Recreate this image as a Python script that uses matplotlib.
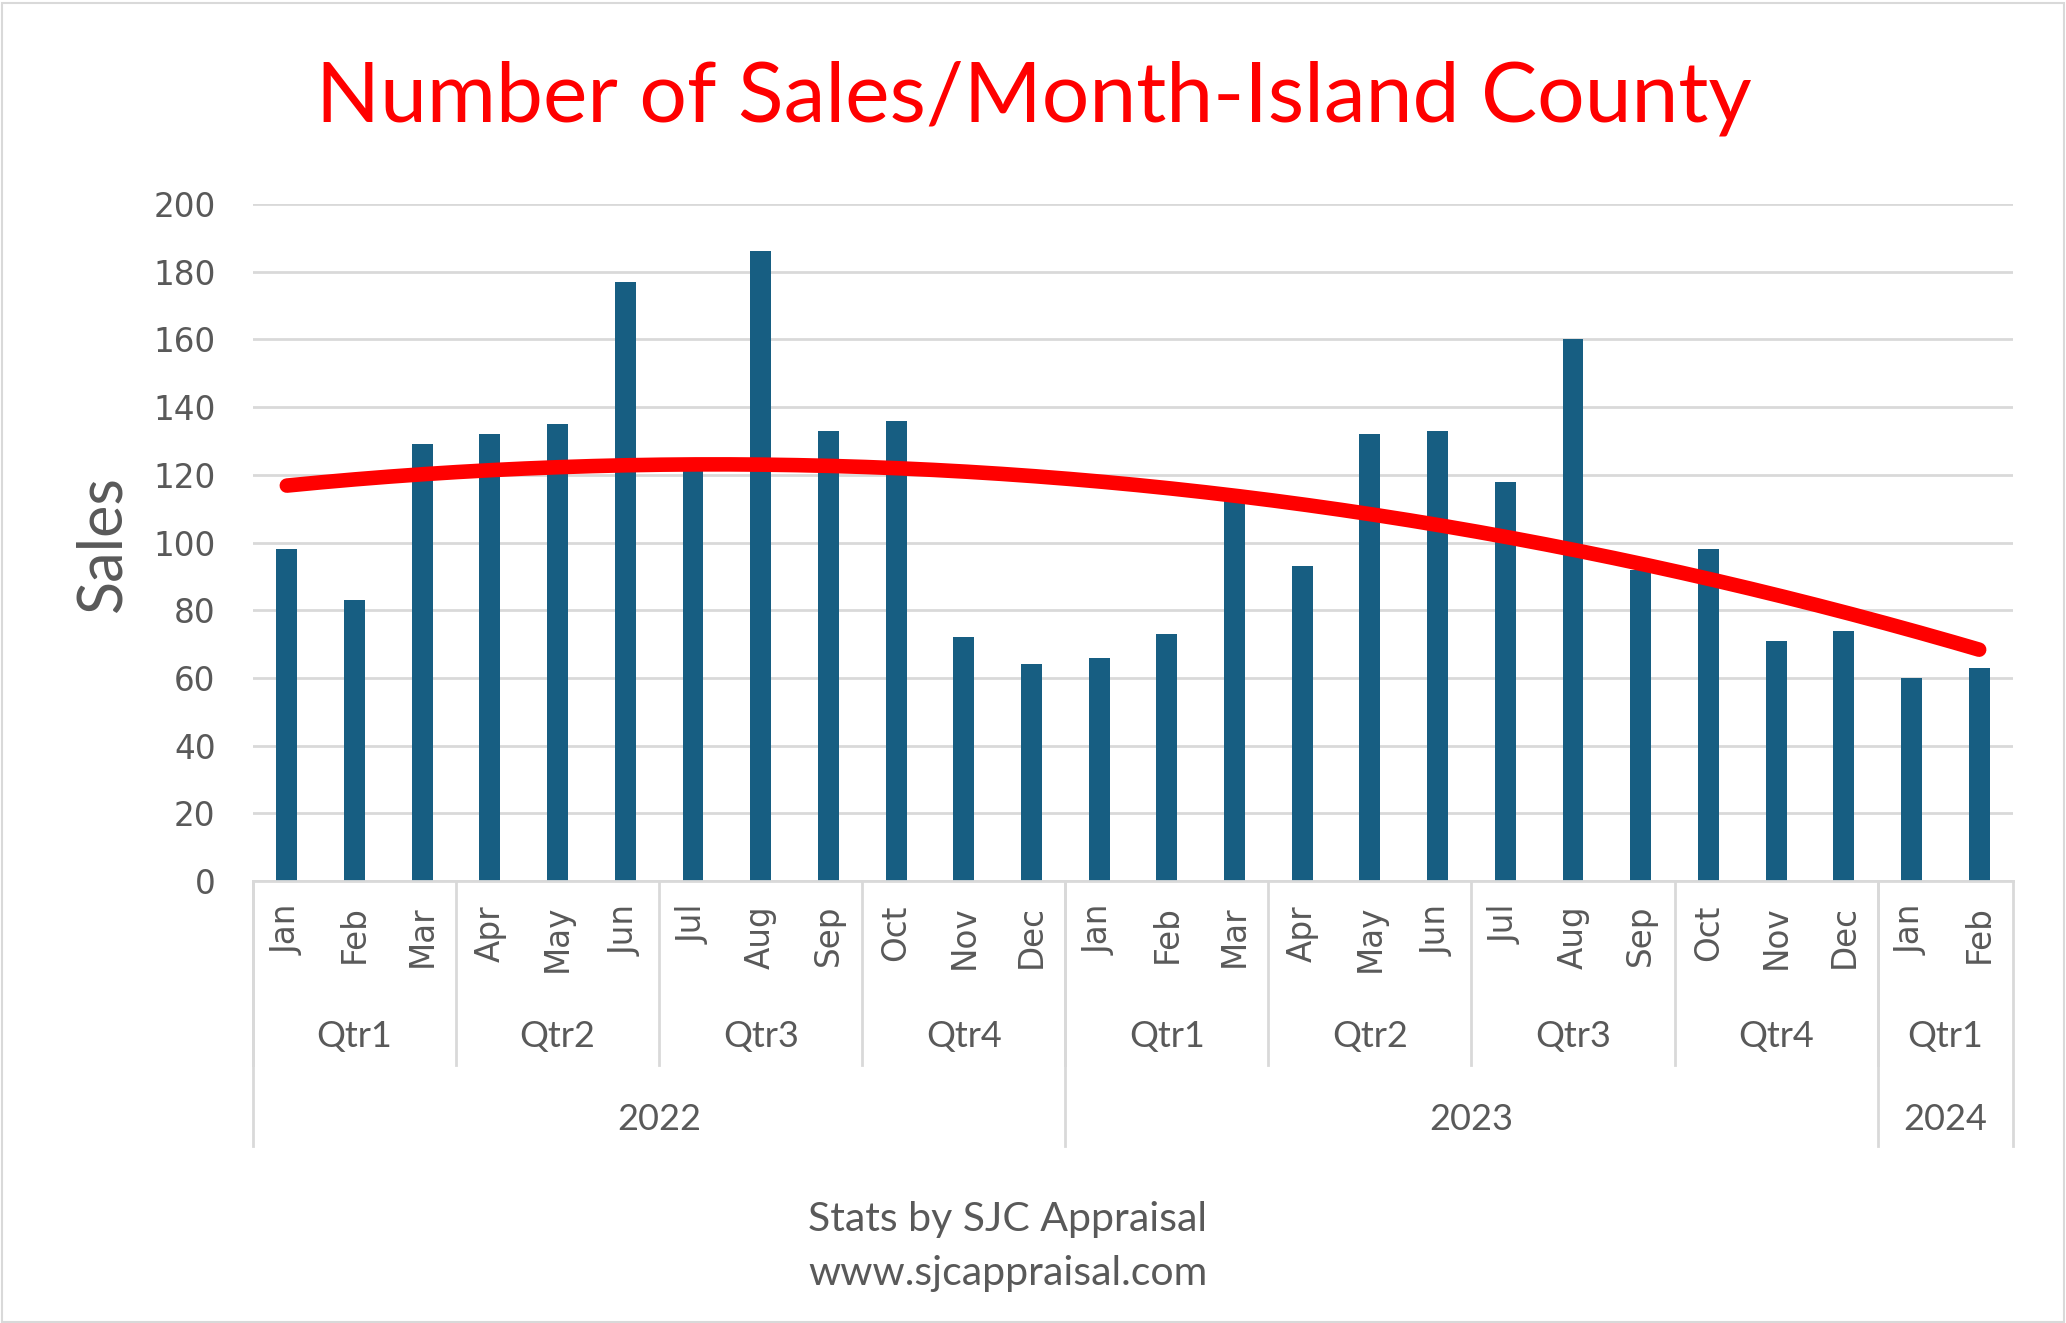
import numpy as np
import matplotlib.pyplot as plt
import matplotlib.transforms as mtransforms
from matplotlib.patches import Rectangle

# data
months = ["Jan", "Feb", "Mar", "Apr", "May", "Jun", "Jul", "Aug", "Sep", "Oct", "Nov", "Dec",
          "Jan", "Feb", "Mar", "Apr", "May", "Jun", "Jul", "Aug", "Sep", "Oct", "Nov", "Dec",
          "Jan", "Feb"]
sales = [98, 83, 129, 132, 135, 177, 124, 186, 133, 136, 72, 64,
         66, 73, 113, 93, 132, 133, 118, 160, 92, 98, 71, 74,
         60, 63]
quarters = ["Qtr1", "Qtr2", "Qtr3", "Qtr4", "Qtr1", "Qtr2", "Qtr3", "Qtr4", "Qtr1"]
quarter_sizes = [3, 3, 3, 3, 3, 3, 3, 3, 2]
years = ["2022", "2023", "2024"]
year_sizes = [12, 12, 2]

BAR = "#175E82"
GREY_TXT = "#595959"
GRID = "#D9D9D9"

W, H = 2066, 1323
fig = plt.figure(figsize=(W / 100, H / 100), dpi=100)
fig.patch.set_facecolor("white")
fig.add_artist(Rectangle((0.001, 0.001), 0.998, 0.997, transform=fig.transFigure,
                         fill=False, edgecolor=GRID, linewidth=1.5))

# plot area in pixel coords of the reference
x0, x1, y_top, y_bot = 253, 2013, 204, 881
ax = fig.add_axes([x0 / W, 1 - y_bot / H, (x1 - x0) / W, (y_bot - y_top) / H])

x = np.arange(len(sales))
ax.bar(x, sales, width=0.31, color=BAR, zorder=2)

# second-order polynomial trendline
coef = np.polyfit(x, sales, 2)
xs = np.linspace(x[0], x[-1], 200)
ax.plot(xs, np.polyval(coef, xs), color="#FF0000", linewidth=10.5,
        solid_capstyle="round", zorder=3)

ax.set_xlim(-0.5, len(sales) - 0.5)
ax.set_ylim(0, 200)
ax.set_yticks(range(0, 201, 20))
ax.yaxis.grid(True, color=GRID, linewidth=2, zorder=0)
ax.set_axisbelow(True)
for side in ["top", "right", "left"]:
    ax.spines[side].set_visible(False)
ax.spines["bottom"].set_color(GRID)
ax.spines["bottom"].set_linewidth(2)
ax.tick_params(axis="y", length=0, pad=27, labelsize=23.5, labelcolor=GREY_TXT)
ax.set_xticks([])

# multi-level category axis
trans = mtransforms.blended_transform_factory(ax.transData, ax.transAxes)
span = y_bot - y_top


def yfrac(py):
    return (y_bot - py) / span


for i, m in enumerate(months):
    ax.text(i, yfrac(905), m, rotation=90, ha="center", va="top", fontsize=23.5,
            color=GREY_TXT, transform=trans, clip_on=False)

start = 0
for q, n in zip(quarters, quarter_sizes):
    ax.text(start + (n - 1) / 2, yfrac(1037), q, ha="center", va="center",
            fontsize=26, family="Lato", color=GREY_TXT, transform=trans)
    ax.plot([start - 0.5, start - 0.5], [0, yfrac(1065)], color=GRID, linewidth=2,
            transform=trans, clip_on=False)
    start += n

start = 0
for yr, n in zip(years, year_sizes):
    ax.text(start + (n - 1) / 2, yfrac(1120), yr, ha="center", va="center",
            fontsize=26, family="Lato", color=GREY_TXT, transform=trans)
    ax.plot([start - 0.5, start - 0.5], [0, yfrac(1146)], color=GRID, linewidth=2,
            transform=trans, clip_on=False)
    start += n
ax.plot([start - 0.5, start - 0.5], [0, yfrac(1146)], color=GRID, linewidth=2,
        transform=trans, clip_on=False)

fig.text(103 / W, 1 - 544 / H, "Sales", rotation=90, ha="center", va="center",
         fontsize=44, family="Lato", color=GREY_TXT)
fig.text(1034 / W, 1 - 99 / H, "Number of Sales/Month-Island County", ha="center",
         va="center", fontsize=60.5, family="Lato", color="#FF0000")
fig.text(1008 / W, 1 - 1219 / H, "Stats by SJC Appraisal", ha="center", va="center",
         fontsize=29.5, family="Lato", color=GREY_TXT)
fig.text(1008 / W, 1 - 1274 / H, "www.sjcappraisal.com", ha="center", va="center",
         fontsize=29.5, family="Lato", color=GREY_TXT)

fig.savefig("out.png", dpi=100)
